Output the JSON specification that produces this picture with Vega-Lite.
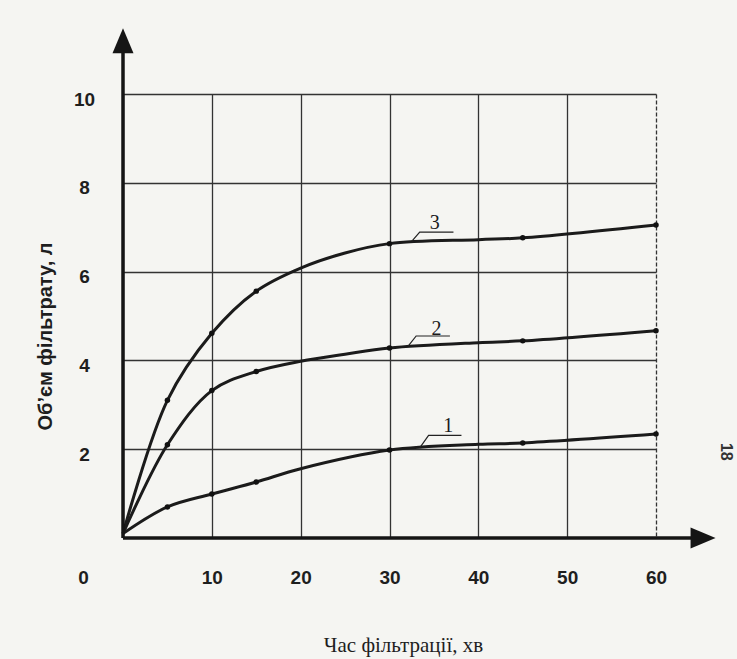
{
  "$schema": "https://vega.github.io/schema/vega-lite/v6.json",
  "width": 533,
  "height": 444,
  "autosize": {"type": "none"},
  "padding": {"left": 123, "top": 94, "right": 81, "bottom": 121},
  "background": "#f5f5f2",
  "config": {"view": {"stroke": null}},
  "datasets": {
    "curves": [
      {"curve": "1", "t": 0, "v": 0.1, "measured": false},
      {"curve": "1", "t": 5, "v": 0.70, "measured": true},
      {"curve": "1", "t": 10, "v": 0.99, "measured": true},
      {"curve": "1", "t": 15, "v": 1.26, "measured": true},
      {"curve": "1", "t": 20, "v": 1.56, "measured": false},
      {"curve": "1", "t": 30, "v": 1.98, "measured": true},
      {"curve": "1", "t": 40, "v": 2.11, "measured": false},
      {"curve": "1", "t": 45, "v": 2.14, "measured": true},
      {"curve": "1", "t": 60, "v": 2.34, "measured": true},
      {"curve": "2", "t": 0, "v": 0.1, "measured": false},
      {"curve": "2", "t": 5, "v": 2.10, "measured": true},
      {"curve": "2", "t": 10, "v": 3.32, "measured": true},
      {"curve": "2", "t": 15, "v": 3.75, "measured": true},
      {"curve": "2", "t": 20, "v": 3.98, "measured": false},
      {"curve": "2", "t": 25, "v": 4.14, "measured": false},
      {"curve": "2", "t": 30, "v": 4.28, "measured": true},
      {"curve": "2", "t": 40, "v": 4.40, "measured": false},
      {"curve": "2", "t": 45, "v": 4.44, "measured": true},
      {"curve": "2", "t": 60, "v": 4.67, "measured": true},
      {"curve": "3", "t": 0, "v": 0.1, "measured": false},
      {"curve": "3", "t": 5, "v": 3.10, "measured": true},
      {"curve": "3", "t": 10, "v": 4.61, "measured": true},
      {"curve": "3", "t": 15, "v": 5.56, "measured": true},
      {"curve": "3", "t": 20, "v": 6.08, "measured": false},
      {"curve": "3", "t": 25, "v": 6.42, "measured": false},
      {"curve": "3", "t": 30, "v": 6.63, "measured": true},
      {"curve": "3", "t": 40, "v": 6.72, "measured": false},
      {"curve": "3", "t": 45, "v": 6.76, "measured": true},
      {"curve": "3", "t": 60, "v": 7.05, "measured": true}
    ],
    "leaders": [
      {"lab": "3", "t": 32.5, "v": 6.68},
      {"lab": "3", "t": 33.4, "v": 6.89},
      {"lab": "3", "t": 37.2, "v": 6.89},
      {"lab": "2", "t": 32.1, "v": 4.32},
      {"lab": "2", "t": 33.0, "v": 4.55},
      {"lab": "2", "t": 36.8, "v": 4.55},
      {"lab": "1", "t": 33.4, "v": 2.03},
      {"lab": "1", "t": 34.4, "v": 2.31},
      {"lab": "1", "t": 38.1, "v": 2.31}
    ],
    "labels": [
      {"lab": "3", "t": 35.1, "v": 7.10},
      {"lab": "2", "t": 35.3, "v": 4.71},
      {"lab": "1", "t": 36.6, "v": 2.52}
    ],
    "page": [
      {"text": "18", "t": 67.9, "v": 1.94}
    ],
    "axes": [
      {"axis": "x", "t": 0, "t2": 65, "v": 0, "v2": 0},
      {"axis": "y", "t": 0, "t2": 0, "v": 0, "v2": 11}
    ],
    "arrows": [
      {"axis": "y", "t": 0, "v": 11.2},
      {"axis": "x", "t": 65.3, "v": 0}
    ]
  },
  "layer": [
    {
      "data": {"name": "curves"},
      "mark": {"type": "line", "interpolate": "catmull-rom", "strokeWidth": 3, "color": "#1b1b1b"},
      "encoding": {
        "x": {
          "field": "t", "type": "quantitative", "title": "Час фільтрації, хв",
          "scale": {"domain": [0, 60], "nice": false, "zero": true},
          "axis": {
            "values": [0, 10, 20, 30, 40, 50, 60],
            "domain": false, "ticks": false, "grid": true,
            "gridColor": "#333333", "gridWidth": 1.3, "gridOpacity": 1,
            "gridDash": {"condition": {"test": "datum.value == 60", "value": [4, 2]}, "value": [1, 0]},
            "labelFont": "Liberation Sans", "labelFontSize": 19, "labelFontWeight": "bold",
            "labelColor": "#1e1e1e", "labelPadding": 30, "labelBaseline": "top",
            "labelFlush": false, "labelOverlap": false,
            "labelOffset": {"condition": {"test": "datum.value == 0", "value": -40}, "value": 0},
            "title": "Час фільтрації, хв", "titleFont": "Liberation Serif", "titleFontSize": 21,
            "titleFontWeight": "normal", "titleColor": "#1e1e1e",
            "titleX": 280, "titleY": 107, "titleBaseline": "middle", "titleAlign": "center"
          }
        },
        "y": {
          "field": "v", "type": "quantitative", "title": "Об’єм фільтрату, л",
          "scale": {"domain": [0, 10], "nice": false, "zero": true},
          "axis": {
            "values": [2, 4, 6, 8, 10],
            "domain": false, "ticks": false, "grid": true,
            "gridColor": "#333333", "gridWidth": 1.3, "gridOpacity": 1,
            "labelFont": "Liberation Sans", "labelFontSize": 19, "labelFontWeight": "bold",
            "labelColor": "#1e1e1e", "labelPadding": 39, "labelAlign": "center",
            "labelBaseline": "middle", "labelOffset": 5,
            "labelFlush": false, "labelOverlap": false,
            "title": "Об’єм фільтрату, л", "titleFont": "Liberation Sans", "titleFontSize": 20,
            "titleFontWeight": "bold", "titleColor": "#1e1e1e", "titleAngle": 270,
            "titleX": -78, "titleY": 242, "titleBaseline": "middle", "titleAlign": "center"
          }
        },
        "detail": {"field": "curve"}
      }
    },
    {
      "data": {"name": "curves"},
      "transform": [{"filter": "datum.measured"}],
      "mark": {"type": "point", "filled": true, "size": 30, "color": "#111111", "opacity": 1},
      "encoding": {
        "x": {"field": "t", "type": "quantitative", "title": "Час фільтрації, хв"},
        "y": {"field": "v", "type": "quantitative", "title": "Об’єм фільтрату, л"}
      }
    },
    {
      "data": {"name": "leaders"},
      "mark": {"type": "line", "strokeWidth": 1.2, "color": "#222222"},
      "encoding": {
        "x": {"field": "t", "type": "quantitative", "title": "Час фільтрації, хв"},
        "y": {"field": "v", "type": "quantitative", "title": "Об’єм фільтрату, л"},
        "detail": {"field": "lab"}
      }
    },
    {
      "data": {"name": "labels"},
      "mark": {"type": "text", "font": "Liberation Serif", "fontSize": 20, "align": "center", "baseline": "middle", "color": "#1a1a1a"},
      "encoding": {
        "x": {"field": "t", "type": "quantitative", "title": "Час фільтрації, хв"},
        "y": {"field": "v", "type": "quantitative", "title": "Об’єм фільтрату, л"},
        "text": {"field": "lab"}
      }
    },
    {
      "data": {"name": "page"},
      "mark": {"type": "text", "font": "Liberation Sans", "fontSize": 16, "fontWeight": "bold", "align": "center", "baseline": "middle", "angle": 90, "color": "#333333"},
      "encoding": {
        "x": {"field": "t", "type": "quantitative", "title": "Час фільтрації, хв"},
        "y": {"field": "v", "type": "quantitative", "title": "Об’єм фільтрату, л"},
        "text": {"field": "text"}
      }
    },
    {
      "data": {"name": "axes"},
      "mark": {"type": "rule", "strokeWidth": 3.5, "color": "#151515"},
      "encoding": {
        "x": {"field": "t", "type": "quantitative", "title": "Час фільтрації, хв"},
        "x2": {"field": "t2"},
        "y": {"field": "v", "type": "quantitative", "title": "Об’єм фільтрату, л"},
        "y2": {"field": "v2"}
      }
    },
    {
      "data": {"name": "arrows"},
      "mark": {"type": "point", "filled": true, "size": 625, "color": "#151515", "opacity": 1},
      "encoding": {
        "x": {"field": "t", "type": "quantitative", "title": "Час фільтрації, хв"},
        "y": {"field": "v", "type": "quantitative", "title": "Об’єм фільтрату, л"},
        "shape": {
          "field": "axis", "type": "nominal", "legend": null,
          "scale": {"domain": ["y", "x"], "range": ["M0,-1L0.84,1L-0.84,1Z", "M1,0L-1,0.84L-1,-0.84Z"]}
        }
      }
    }
  ]
}
